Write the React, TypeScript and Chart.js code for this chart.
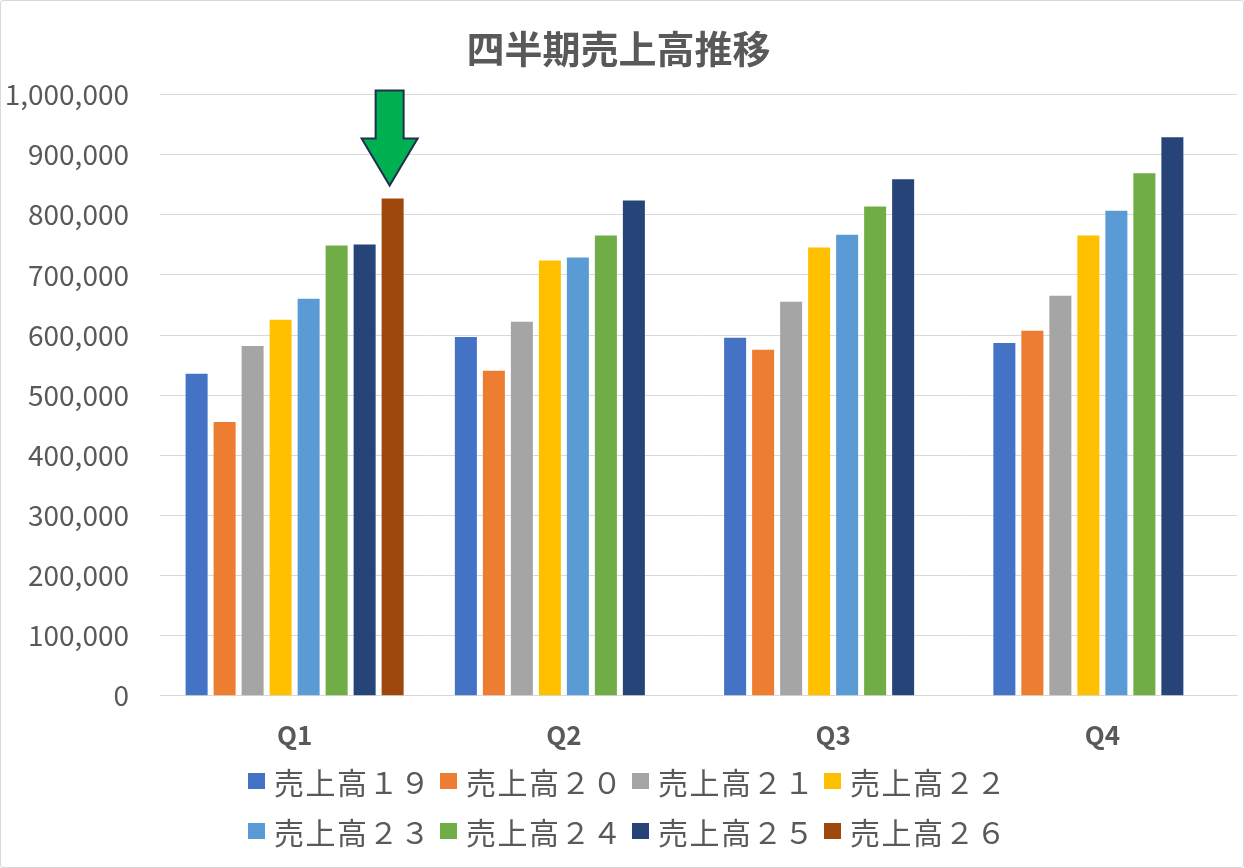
import React, { useEffect, useRef } from 'react'
import { Chart, registerables } from 'chart.js'
import type { Plugin } from 'chart.js'

Chart.register(...registerables)

const quarters = ['Q1', 'Q2', 'Q3', 'Q4']
const seriesNames = ['売上高１９', '売上高２０', '売上高２１', '売上高２２', '売上高２３', '売上高２４', '売上高２５', '売上高２６']
const seriesColors = ['#4472C4', '#ED7D31', '#A5A5A5', '#FFC000', '#5B9BD5', '#70AD47', '#264478', '#9E480E']

const sales19 = [535500, 597000, 595500, 587000]
const sales20 = [455500, 540500, 575500, 607000]
const sales21 = [582000, 622000, 655500, 665500]
const sales22 = [625500, 724000, 745500, 765500]
const sales23 = [660500, 729000, 767000, 807000]
const sales24 = [749000, 765500, 814000, 869000]
const sales25 = [750500, 824000, 859000, 929000]
const sales26 = [827000, null, null, null]

const seriesValues = [sales19, sales20, sales21, sales22, sales23, sales24, sales25, sales26]

const yMax = 1000000
const yStep = 100000

const textColor = '#595959'
const gridColor = '#d9d9d9'
const fontFamily = '"Noto Sans CJK JP", "Noto Sans", sans-serif'

// green arrow pointing at the 売上高２６ bar in Q1
const arrowPlugin: Plugin<'bar'> = {
  id: 'arrowMark',
  afterDatasetsDraw(chart) {
    const bar = chart.getDatasetMeta(7).data[0] as any
    if (!bar) return
    const ctx = chart.ctx
    const cx = bar.x - 3
    const tip = bar.y - 13
    const headH = 47
    const shaftH = 48
    const headW = 28
    const shaftW = 14
    ctx.save()
    ctx.beginPath()
    ctx.moveTo(cx - shaftW, tip - headH - shaftH)
    ctx.lineTo(cx + shaftW, tip - headH - shaftH)
    ctx.lineTo(cx + shaftW, tip - headH)
    ctx.lineTo(cx + headW, tip - headH)
    ctx.lineTo(cx, tip)
    ctx.lineTo(cx - headW, tip - headH)
    ctx.lineTo(cx - shaftW, tip - headH)
    ctx.closePath()
    ctx.fillStyle = '#00B050'
    ctx.fill()
    ctx.lineWidth = 2
    ctx.strokeStyle = '#1F2F4F'
    ctx.lineJoin = 'miter'
    ctx.stroke()
    ctx.restore()
  },
}

export default function App() {
  const canvasRef = useRef<HTMLCanvasElement>(null)
  const chartRef = useRef<Chart | null>(null)

  useEffect(() => {
    if (!canvasRef.current) return
    chartRef.current?.destroy()

    chartRef.current = new Chart(canvasRef.current, {
      type: 'bar',
      data: {
        labels: quarters,
        datasets: seriesNames.map((name, i) => ({
          label: name,
          data: seriesValues[i],
          backgroundColor: seriesColors[i],
          categoryPercentage: 0.832,
          barPercentage: 0.786,
        })),
      },
      options: {
        animation: false,
        responsive: false,
        maintainAspectRatio: false,
        layout: { padding: { left: 0, right: 7, top: 0, bottom: 93 } },
        plugins: {
          legend: { display: false },
          tooltip: { enabled: false },
          title: {
            display: true,
            text: '四半期売上高推移',
            color: textColor,
            font: { family: fontFamily, size: 38, weight: 'bold' },
            padding: { top: 26, bottom: 23 },
          },
        },
        scales: {
          x: {
            grid: { display: false, drawTicks: false },
            border: { display: true, color: gridColor, width: 1 },
            ticks: {
              color: textColor,
              font: { family: fontFamily, size: 26, weight: 'bold' },
              padding: 24,
            },
          },
          y: {
            min: 0,
            max: yMax,
            afterFit: (s: any) => {
              s.width = 160
            },
            grid: { color: gridColor, lineWidth: 1, drawTicks: false },
            border: { display: false },
            ticks: {
              stepSize: yStep,
              color: textColor,
              font: { family: fontFamily, size: 28 },
              padding: 31,
              callback: (v) => Number(v).toLocaleString('en-US'),
            },
          },
        },
      },
      plugins: [arrowPlugin],
    })

    return () => {
      chartRef.current?.destroy()
      chartRef.current = null
    }
  }, [])

  const rows = [seriesNames.slice(0, 4), seriesNames.slice(4, 8)]

  return (
    <div style={{ position: 'absolute', left: 0, top: 0, width: 1244, height: 868, background: '#fff' }}>
      <canvas ref={canvasRef} width={1244} height={868} style={{ display: 'block' }} />
      <div
        style={{
          position: 'absolute',
          inset: 0,
          border: `1px solid ${gridColor}`,
          borderRadius: 3,
          pointerEvents: 'none',
        }}
      />
      {rows.map((row, r) => (
        <div
          key={r}
          style={{
            position: 'absolute',
            left: 248,
            top: 763 + r * 50,
            display: 'flex',
            fontFamily,
            fontSize: 30,
            color: textColor,
            lineHeight: '36px',
          }}
        >
          {row.map((name) => {
            const idx = seriesNames.indexOf(name)
            return (
              <div key={name} style={{ width: 192, display: 'flex', alignItems: 'center' }}>
                <span
                  style={{
                    display: 'inline-block',
                    width: 17,
                    height: 16,
                    background: seriesColors[idx],
                    marginRight: 9,
                  }}
                />
                <span style={{ letterSpacing: 1.5, whiteSpace: 'nowrap' }}>{name}</span>
              </div>
            )
          })}
        </div>
      ))}
    </div>
  )
}
